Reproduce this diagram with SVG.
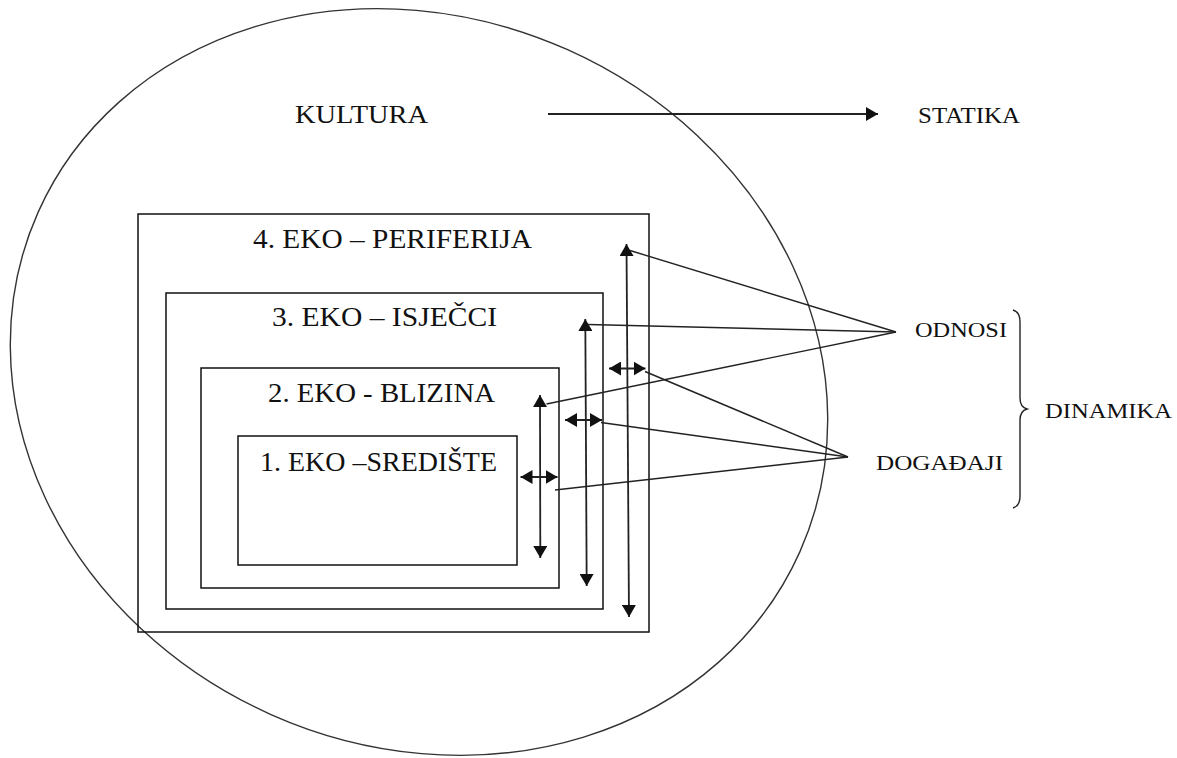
<svg xmlns="http://www.w3.org/2000/svg" width="1177" height="758" viewBox="0 0 1177 758">
<style>
.t{font-family:'Liberation Serif','Times New Roman',serif;fill:#111;}
.box{fill:none;stroke:#111;stroke-width:1.5;}
.ln{fill:none;stroke:#222;stroke-width:1.4;}
.ar{fill:none;stroke:#222;stroke-width:1.8;marker-end:url(#ah);}
.dar{fill:none;stroke:#222;stroke-width:1.8;marker-start:url(#ah);marker-end:url(#ah);}
</style>
<defs>
<marker id="ah" viewBox="0 0 12 14" refX="12" refY="7" markerWidth="12" markerHeight="14" markerUnits="userSpaceOnUse" orient="auto-start-reverse">
<path d="M0,0 L12,7 L0,14 z" fill="#111"/>
</marker>
</defs>
<rect width="1177" height="758" fill="#fff"/>
<g id="kultura">
<ellipse cx="0" cy="0" rx="417" ry="364" transform="translate(419,382) rotate(24)" fill="none" stroke="#333" stroke-width="1.4"/>
<text class="t" x="295" y="123" font-size="26" textLength="133" lengthAdjust="spacingAndGlyphs" font-family="Liberation Serif, serif">KULTURA</text>
</g>
<g id="statika">
<text class="t" x="918" y="123" font-size="24" textLength="102" lengthAdjust="spacingAndGlyphs" font-family="Liberation Serif, serif">STATIKA</text>
</g>
<g id="eko4">
<rect class="box" x="138" y="214" width="511" height="418"/>
<text class="t" x="253" y="248" font-size="28" textLength="279" lengthAdjust="spacingAndGlyphs" font-family="Liberation Serif, serif">4. EKO – PERIFERIJA</text>
</g>
<g id="eko3">
<rect class="box" x="166" y="293" width="437" height="316"/>
<text class="t" x="272" y="326" font-size="28" textLength="225" lengthAdjust="spacingAndGlyphs" font-family="Liberation Serif, serif">3. EKO – ISJEČCI</text>
</g>
<g id="eko2">
<rect class="box" x="201" y="368" width="358" height="220"/>
<text class="t" x="268" y="402" font-size="28" textLength="227" lengthAdjust="spacingAndGlyphs" font-family="Liberation Serif, serif">2. EKO - BLIZINA</text>
</g>
<g id="eko1">
<rect class="box" x="238" y="436" width="279" height="129"/>
<text class="t" x="260" y="471" font-size="28" textLength="237" lengthAdjust="spacingAndGlyphs" font-family="Liberation Serif, serif">1. EKO –SREDIŠTE</text>
</g>
<g id="odnosi">
<text class="t" x="915" y="337" font-size="22" textLength="92" lengthAdjust="spacingAndGlyphs" font-family="Liberation Serif, serif">ODNOSI</text>
</g>
<g id="dogadaji">
<text class="t" x="876" y="470" font-size="22" textLength="127" lengthAdjust="spacingAndGlyphs" font-family="Liberation Serif, serif">DOGAĐAJI</text>
</g>
<g id="dinamika">
<path class="ln" d="M1013,310 Q1020,312 1020,322 L1020,398 Q1020,407 1027,409 Q1020,411 1020,420 L1020,496 Q1020,506 1013,508"/>
<text class="t" x="1045" y="418" font-size="21" textLength="127" lengthAdjust="spacingAndGlyphs" font-family="Liberation Serif, serif">DINAMIKA</text>
</g>
<g id="connectors">
<line class="ar" x1="548" y1="114" x2="878" y2="114"/>
<line class="dar" x1="626.5" y1="244" x2="629" y2="617"/>
<line class="dar" x1="585.3" y1="319" x2="586.7" y2="586"/>
<line class="dar" x1="540" y1="395" x2="540.3" y2="558"/>
<line class="dar" x1="609" y1="368.5" x2="645.5" y2="368.5"/>
<line class="dar" x1="565" y1="420" x2="602" y2="420"/>
<line class="dar" x1="520.5" y1="477" x2="557.5" y2="477"/>
<line class="ln" x1="630" y1="250.5" x2="896" y2="332"/>
<line class="ln" x1="588" y1="324.5" x2="896" y2="332"/>
<line class="ln" x1="546.5" y1="404" x2="896" y2="332"/>
<line class="ln" x1="645" y1="371.5" x2="848" y2="457"/>
<line class="ln" x1="601" y1="422.5" x2="848" y2="457"/>
<line class="ln" x1="555" y1="490" x2="848" y2="457"/>
</g>
</svg>
